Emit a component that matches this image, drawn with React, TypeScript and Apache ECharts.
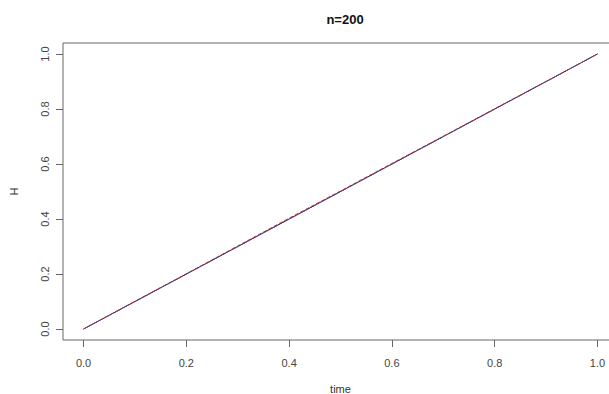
import React, { useEffect, useRef } from "react";
import * as echarts from "echarts";

const time = [0, 0.1, 0.2, 0.3, 0.4, 0.5, 0.6, 0.7, 0.8, 0.9, 1.0];
const hTrue = [0, 0.1, 0.2, 0.3, 0.4, 0.5, 0.6, 0.7, 0.8, 0.9, 1.0];
const hEstA = [0, 0.101, 0.201, 0.302, 0.403, 0.502, 0.602, 0.701, 0.801, 0.9, 1.0];
const hEstB = [0, 0.099, 0.199, 0.299, 0.399, 0.499, 0.599, 0.699, 0.799, 0.899, 1.0];
const tickValues = [0, 0.2, 0.4, 0.6, 0.8, 1.0];

const pairs = (ys: number[]) => time.map((t, i) => [t, ys[i]]);

export default function App() {
  const ref = useRef<HTMLDivElement>(null);
  useEffect(() => {
    if (!ref.current) return;
    const chart = echarts.init(ref.current, null, { renderer: "svg" });
    const font = "'Liberation Sans', Arial, sans-serif";
    chart.setOption({
      animation: false,
      backgroundColor: "#ffffff",
      title: {
        text: "n=200",
        left: 340,
        top: 8,
        textAlign: "center",
        textStyle: { fontFamily: font, fontSize: 13, fontWeight: "bold", color: "#111" },
      },
      grid: {
        left: 63,
        top: 43,
        width: 555,
        height: 297,
        outerBoundsMode: "none",
        containLabel: false,
        show: true,
        borderColor: "#666",
        borderWidth: 1,
        backgroundColor: "transparent",
      },
      xAxis: {
        type: "value",
        min: -0.04,
        max: 1.04,
        name: "time",
        nameLocation: "middle",
        nameGap: 43,
        nameTextStyle: { fontFamily: font, fontSize: 11, color: "#333" },
        axisLine: { show: false, onZero: false },
        splitLine: { show: false },
        axisTick: { show: true, length: 7, customValues: tickValues, lineStyle: { color: "#666" } },
        axisLabel: {
          customValues: tickValues,
          margin: 17,
          fontFamily: font,
          fontSize: 11,
          color: "#444",
          formatter: (v: number) => v.toFixed(1),
        },
      },
      yAxis: {
        type: "value",
        min: -0.04,
        max: 1.04,
        name: "H",
        nameLocation: "middle",
        nameGap: 44,
        nameRotate: 90,
        nameTextStyle: { fontFamily: font, fontSize: 11, color: "#333" },
        axisLine: { show: false, onZero: false },
        splitLine: { show: false },
        axisTick: { show: true, length: 7, customValues: tickValues, lineStyle: { color: "#666" } },
        axisLabel: {
          customValues: tickValues,
          rotate: 90,
          margin: 13,
          fontFamily: font,
          fontSize: 11,
          color: "#444",
          formatter: (v: number) => v.toFixed(1),
        },
      },
      series: [
        {
          type: "line",
          data: pairs(hTrue),
          showSymbol: false,
          lineStyle: { color: "#222", width: 1 },
        },
        {
          type: "line",
          data: pairs(hEstA),
          showSymbol: false,
          lineStyle: { color: "#d03030", width: 1, type: "dashed" },
        },
        {
          type: "line",
          data: pairs(hEstB),
          showSymbol: false,
          lineStyle: { color: "#4040c0", width: 1, type: "dotted" },
        },
      ],
    });
    return () => chart.dispose();
  }, []);
  return <div ref={ref} style={{ width: 609, height: 394, position: "absolute", left: 0, top: 0 }} />;
}
